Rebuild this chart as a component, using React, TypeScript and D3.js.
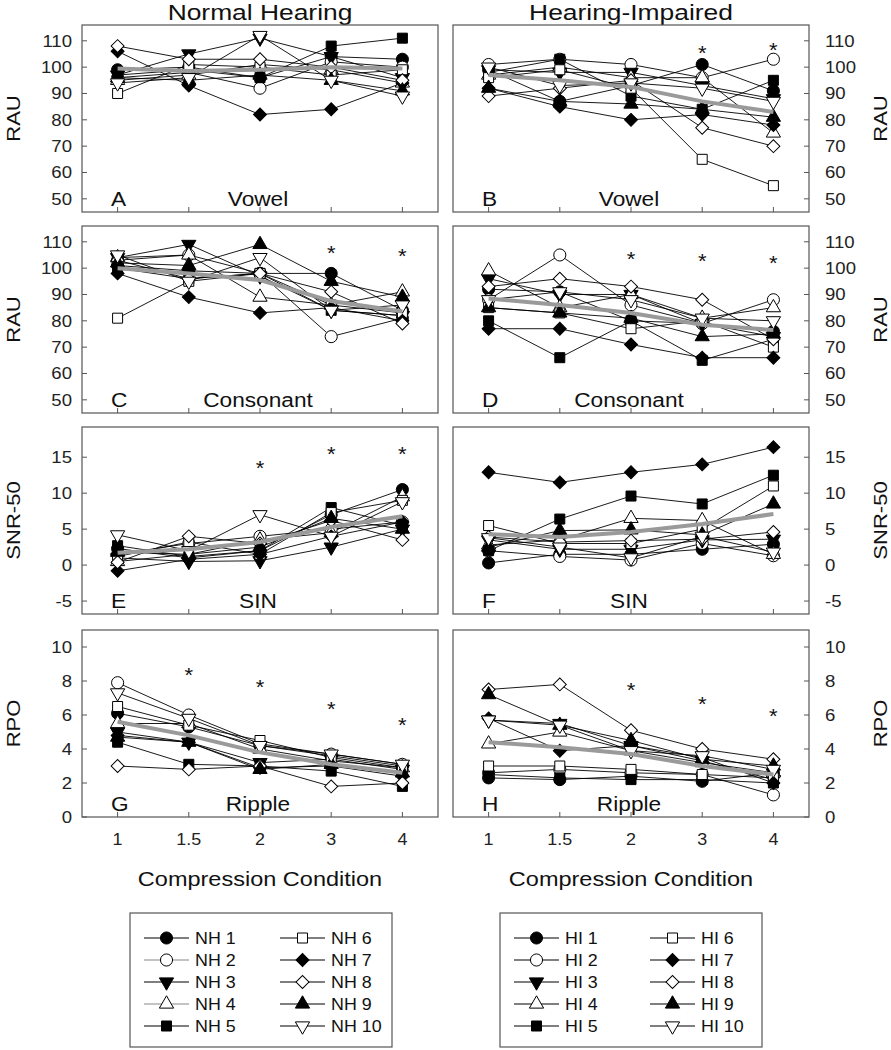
import React from "react";
import * as d3 from "d3";

// compression conditions (x axis)
const conditions = ["1", "1.5", "2", "3", "4"];

// subjects 1..10, values per condition
const nhVowel = [
  [99, 100, 96, 104, 103],
  [96, 98, 92, 102, 100],
  [97, 105, 111, 104, 96],
  [95, 97, 101, 99, 94],
  [97, 99, 96, 108, 111],
  [90, 101, 100, 97, 99],
  [106, 93, 82, 84, 94],
  [108, 103, 103, 100, 95],
  [96, 95, 97, 95, 91],
  [94, 96, 112, 95, 89],
];
const hiVowel = [
  [99, 87, 93, 101, 91],
  [101, 103, 101, 96, 103],
  [99, 98, 98, 93, 88],
  [97, 100, 96, 96, 75],
  [98, 103, 89, 84, 95],
  [96, 99, 92, 65, 55],
  [92, 85, 80, 82, 78],
  [89, 92, 95, 77, 70],
  [92, 87, 86, 84, 81],
  [100, 93, 94, 92, 87],
];
const nhConsonant = [
  [101, 99, 98, 98, 84],
  [103, 105, 98, 74, 81],
  [104, 109, 97, 84, 82],
  [104, 105, 89, 86, 91],
  [100, 96, 98, 84, 82],
  [81, 95, 98, 86, 83],
  [98, 89, 83, 85, 80],
  [103, 96, 98, 91, 79],
  [102, 101, 109, 95, 89],
  [105, 95, 104, 84, 86],
];
const hiConsonant = [
  [92, 91, 80, 79, 76],
  [88, 105, 86, 79, 88],
  [96, 90, 90, 79, 74],
  [99, 85, 90, 81, 85],
  [80, 66, 80, 65, 73],
  [85, 83, 77, 80, 70],
  [77, 77, 71, 66, 66],
  [93, 96, 93, 88, 73],
  [85, 83, 81, 74, 75],
  [88, 91, 88, 81, 80],
];
const nhSin = [
  [2.3, 1.0, 2.0, 7.0, 10.5],
  [1.5, 3.0, 4.0, 5.0, 6.0],
  [1.0, 0.5, 0.6, 2.5, 5.0],
  [0.5, 1.5, 3.5, 4.5, 9.5],
  [2.7, 1.2, 2.0, 8.0, 5.5],
  [1.2, 3.2, 1.5, 7.3, 9.0],
  [-0.8, 0.8, 1.5, 4.0, 6.0],
  [0.4, 4.0, 3.0, 6.2, 3.5],
  [1.8, 1.5, 2.5, 6.5, 5.0],
  [4.2, 2.0, 7.0, 4.0, 8.8],
];
const hiSin = [
  [0.3, 1.5, 1.5, 2.2, 2.9],
  [2.0, 1.2, 0.7, 3.0, 1.3],
  [3.5, 2.2, 2.2, 3.5, 3.6],
  [2.8, 3.5, 6.5, 6.2, 1.5],
  [2.0, 6.4, 9.6, 8.5, 12.5],
  [5.5, 3.0, 3.0, 5.0, 11.0],
  [12.9, 11.5, 12.9, 14.0, 16.4],
  [3.9, 3.2, 3.4, 3.6, 4.6],
  [2.5, 4.8, 4.9, 4.2, 8.5],
  [3.8, 2.5, 1.0, 4.0, 1.8],
];
const nhRipple = [
  [6.1, 5.3, 4.2, 3.6, 3.0],
  [7.9, 6.0, 4.3, 3.7, 3.1],
  [5.0, 4.4, 3.2, 3.4, 2.8],
  [5.5, 5.5, 4.0, 3.3, 2.9],
  [4.4, 3.1, 3.0, 2.7, 1.8],
  [6.5, 5.4, 4.5, 3.5, 2.9],
  [4.8, 4.4, 2.9, 3.0, 2.4],
  [3.0, 2.8, 3.0, 1.8, 2.0],
  [4.7, 4.4, 2.8, 3.1, 2.6],
  [7.3, 5.8, 4.2, 3.7, 3.1],
];
const hiRipple = [
  [2.3, 2.2, 2.4, 2.1, 2.6],
  [2.6, 2.8, 2.6, 2.5, 1.3],
  [5.7, 5.5, 4.2, 3.3, 2.2],
  [4.3, 5.0, 3.9, 3.2, 2.6],
  [2.5, 2.3, 2.2, 2.2, 2.0],
  [3.0, 3.0, 2.8, 2.5, 2.3],
  [5.8, 3.9, 4.2, 3.5, 2.0],
  [7.5, 7.8, 5.1, 4.0, 3.4],
  [7.2, 5.4, 4.5, 3.4, 3.0],
  [5.7, 5.4, 3.9, 3.6, 2.8],
];

// group mean (gray line)
const nhVowelMean = [99.5, 98.5, 99, 100, 99.5];
const hiVowelMean = [97, 95, 92.5, 87, 83];
const nhConsonantMean = [100, 98, 95.5, 87.5, 83.5];
const hiConsonantMean = [88.5, 86, 83, 78.5, 76.5];
const nhSinMean = [1.7, 2.2, 3.2, 5.3, 6.8];
const hiSinMean = [4.3, 3.9, 4.6, 5.7, 7.1];
const nhRippleMean = [5.6, 4.8, 3.8, 3.1, 2.6];
const hiRippleMean = [4.4, 4.1, 3.7, 3.0, 2.5];

// significance asterisks: [condition, value]
const nhVowelStars = [];
const hiVowelStars = [["3", 107], ["4", 108]];
const nhConsonantStars = [["3", 107.4], ["4", 106.2]];
const hiConsonantStars = [["2", 104.9], ["3", 104.3], ["4", 103.4]];
const nhSinStars = [["2", 14.1], ["3", 16], ["4", 16]];
const hiSinStars = [];
const nhRippleStars = [["1.5", 8.6], ["2", 7.9], ["3", 6.6], ["4", 5.65]];
const hiRippleStars = [["2", 7.7], ["3", 6.9], ["4", 6.2]];

const rauTicks = [50, 60, 70, 80, 90, 100, 110];
const snrTicks = [-5, 0, 5, 10, 15];
const rpoTicks = [0, 2, 4, 6, 8, 10];

const subjectShapes = [
  { shape: "circle", filled: true },
  { shape: "circle", filled: false },
  { shape: "down", filled: true },
  { shape: "up", filled: false },
  { shape: "square", filled: true },
  { shape: "square", filled: false },
  { shape: "diamond", filled: true },
  { shape: "diamond", filled: false },
  { shape: "up", filled: true },
  { shape: "down", filled: false },
];

const FONT = "'Liberation Sans', Arial, sans-serif";
const AXIS = "#555";

const symbolPaths = {
  circle: d3.symbol(d3.symbolCircle, 115)(),
  square: d3.symbol(d3.symbolSquare, 100)(),
  diamond: d3.symbol(d3.symbolSquare, 84)(),
  up: d3.symbol(d3.symbolTriangle, 88)(),
  down: d3.symbol(d3.symbolTriangle, 88)(),
};
const symbolRotate = { circle: 0, square: 0, diamond: 45, up: 0, down: 180 };

// text stretched along its baseline (the source font runs wide)
function T({ x, y, size, sx = 1.15, rotate = 0, anchor = "start", fill = "#111", children }) {
  const rot = rotate ? ` rotate(${rotate})` : "";
  return (
    <text
      transform={`translate(${x},${y})${rot} scale(${sx},1)`}
      textAnchor={anchor}
      fontSize={size}
      fontFamily={FONT}
      fill={fill}
    >
      {children}
    </text>
  );
}

function Marker({ shape, filled, x, y }) {
  return (
    <path
      d={symbolPaths[shape]}
      transform={`translate(${x},${y}) rotate(${symbolRotate[shape]})`}
      fill={filled ? "#000" : "#fff"}
      stroke="#000"
      strokeWidth={1}
    />
  );
}

function Panel({ left, top, width, height, domain, ticks, rows, mean, stars, letter, label, side, xLabels }) {
  const x = d3.scalePoint().domain(conditions).range([left, left + width]).padding(0.5);
  const y = d3.scaleLinear().domain(domain).range([top + height, top]);
  const line = d3
    .line()
    .x((d, i) => x(conditions[i]))
    .y((d) => y(d));
  const bottom = top + height;
  const right = left + width;
  return (
    <g>
      <rect x={left} y={top} width={width} height={height} fill="none" stroke={AXIS} strokeWidth={1.2} />
      {conditions.map((c) => (
        <line key={c} x1={x(c)} x2={x(c)} y1={bottom} y2={bottom - 5} stroke={AXIS} />
      ))}
      {ticks.map((t) => {
        const ty = y(t);
        const tx = side === "left" ? left : right;
        const dir = side === "left" ? 1 : -1;
        return (
          <g key={t}>
            <line x1={tx} x2={tx + dir * 5} y1={ty} y2={ty} stroke={AXIS} />
            <T
              x={side === "left" ? left - 10 : right + 16}
              y={ty + 6}
              size={16}
              sx={1.16}
              anchor={side === "left" ? "end" : "start"}
              fill="#222"
            >
              {t}
            </T>
          </g>
        );
      })}
      {xLabels &&
        conditions.map((c) => (
          <T key={c} x={x(c)} y={bottom + 28} size={16} sx={1.12} anchor="middle" fill="#222">
            {c}
          </T>
        ))}
      <T x={left + 29} y={bottom - 6} size={21} sx={1.08}>
        {letter}
      </T>
      <T x={left + width / 2 - 2} y={bottom - 6} size={21} sx={1.08} anchor="middle">
        {label}
      </T>
      {rows.map((r, i) => (
        <path key={"l" + i} d={line(r)} fill="none" stroke="#000" strokeWidth={0.9} />
      ))}
      {rows.map((r, i) =>
        r.map((v, j) => (
          <Marker key={i + "-" + j} {...subjectShapes[i]} x={x(conditions[j])} y={y(v)} />
        ))
      )}
      <path d={line(mean)} fill="none" stroke="#9a9a9a" strokeWidth={4} />
      {stars.map(([c, v]) => (
        <T key={c} x={x(c)} y={y(v) + 11} size={21} sx={1.05} anchor="middle">
          *
        </T>
      ))}
    </g>
  );
}

function Legend({ left, top, prefix, grayRows }) {
  const rowY = (i) => top + 25 + i * 22;
  return (
    <g>
      <rect x={left} y={top} width={262} height={134} fill="#fff" stroke={AXIS} strokeWidth={1.2} />
      {subjectShapes.map((s, i) => {
        const col = i < 5 ? 0 : 1;
        const r = i % 5;
        const lx = left + 14 + col * 136;
        const cy = rowY(r);
        return (
          <g key={i}>
            <line x1={lx} x2={lx + 45} y1={cy} y2={cy} stroke={grayRows.includes(i) ? "#888" : "#000"} strokeWidth={1.2} />
            <Marker {...s} x={lx + 22.5} y={cy} />
            <T x={lx + 51} y={cy + 6} size={17} sx={1.05}>
              {`${prefix} ${i + 1}`}
            </T>
          </g>
        );
      })}
    </g>
  );
}

export default function App() {
  const W = 891;
  const H = 1050;
  const lefts = [82, 453];
  const pw = 356;
  const tops = [25, 226, 427, 630];
  const ph = 187;
  const rowsDef = [
    { domain: [45, 116], ticks: rauTicks, title: "RAU", label: "Vowel", nh: nhVowel, hi: hiVowel, nhm: nhVowelMean, him: hiVowelMean, nhs: nhVowelStars, his: hiVowelStars, letters: ["A", "B"] },
    { domain: [45, 116], ticks: rauTicks, title: "RAU", label: "Consonant", nh: nhConsonant, hi: hiConsonant, nhm: nhConsonantMean, him: hiConsonantMean, nhs: nhConsonantStars, his: hiConsonantStars, letters: ["C", "D"] },
    { domain: [-6.8, 19.2], ticks: snrTicks, title: "SNR-50", label: "SIN", nh: nhSin, hi: hiSin, nhm: nhSinMean, him: hiSinMean, nhs: nhSinStars, his: hiSinStars, letters: ["E", "F"] },
    { domain: [0, 11], ticks: rpoTicks, title: "RPO", label: "Ripple", nh: nhRipple, hi: hiRipple, nhm: nhRippleMean, him: hiRippleMean, nhs: nhRippleStars, his: hiRippleStars, letters: ["G", "H"] },
  ];
  return (
    <svg width={W} height={H} style={{ position: "absolute", left: 0, top: 0, background: "#fff" }}>
      <T x={lefts[0] + pw / 2} y={20} size={22} sx={1.2} anchor="middle">
        Normal Hearing
      </T>
      <T x={lefts[1] + pw / 2} y={20} size={22} sx={1.2} anchor="middle">
        Hearing-Impaired
      </T>
      {rowsDef.map((r, i) => (
        <g key={i}>
          <Panel left={lefts[0]} top={tops[i]} width={pw} height={ph} domain={r.domain} ticks={r.ticks} rows={r.nh} mean={r.nhm} stars={r.nhs} letter={r.letters[0]} label={r.label} side="left" xLabels={i === 3} />
          <Panel left={lefts[1]} top={tops[i]} width={pw} height={ph} domain={r.domain} ticks={r.ticks} rows={r.hi} mean={r.him} stars={r.his} letter={r.letters[1]} label={r.label} side="right" xLabels={i === 3} />
          <T x={20} y={tops[i] + ph / 2} size={19} sx={1.16} rotate={-90} anchor="middle">
            {r.title}
          </T>
          <T x={887} y={tops[i] + ph / 2} size={19} sx={1.16} rotate={-90} anchor="middle">
            {r.title}
          </T>
        </g>
      ))}
      <T x={lefts[0] + pw / 2} y={886} size={21} sx={1.12} anchor="middle">
        Compression Condition
      </T>
      <T x={lefts[1] + pw / 2} y={886} size={21} sx={1.12} anchor="middle">
        Compression Condition
      </T>
      <Legend left={130} top={913} prefix="NH" grayRows={[1, 3]} />
      <Legend left={500} top={913} prefix="HI" grayRows={[]} />
    </svg>
  );
}
